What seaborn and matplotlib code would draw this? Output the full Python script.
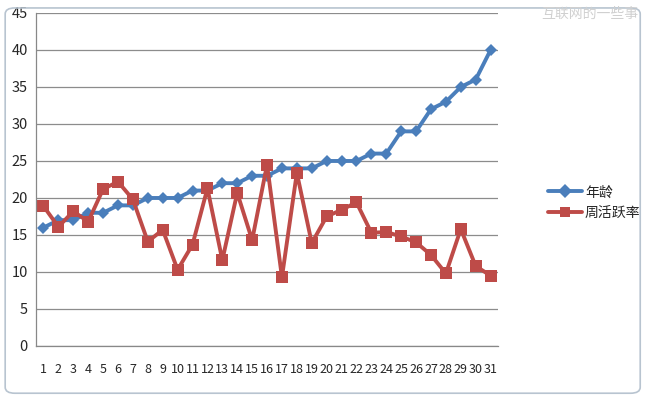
import pandas as pd
import seaborn as sns
import matplotlib.pyplot as plt
from matplotlib.patches import FancyBboxPatch

days = list(range(1, 32))
age = [16, 17, 17, 18, 18, 19, 19, 20, 20, 20, 21, 21, 22, 22, 23, 23,
       24, 24, 24, 25, 25, 25, 26, 26, 29, 29, 32, 33, 35, 36, 40]
active = [18.9, 16.1, 18.2, 16.8, 21.2, 22.2, 19.8, 14.1, 15.7, 10.3, 13.7,
          21.3, 11.6, 20.7, 14.3, 24.5, 9.3, 23.4, 13.9, 17.5, 18.4, 19.4,
          15.3, 15.4, 14.8, 14.0, 12.3, 9.8, 15.8, 10.8, 9.5]
series = ["年龄", "周活跃率"]

df = pd.DataFrame({
    "day": days * 2,
    "value": age + active,
    "series": [series[0]] * len(days) + [series[1]] * len(days),
})

sns.set_style("white")
plt.rcParams["font.family"] = ["Noto Sans CJK SC", "DejaVu Sans"]

fig = plt.figure(figsize=(6.48, 3.98), dpi=100)
fig.patches.append(FancyBboxPatch((0.008, 0.012), 0.98, 0.968,
                                  boxstyle="round,pad=0,rounding_size=0.015",
                                  transform=fig.transFigure, fill=False,
                                  edgecolor="#b8c4d0", linewidth=1.2))
ax = fig.add_axes([0.0556, 0.1307, 0.713, 0.8367])

sns.lineplot(
    data=df, x="day", y="value", hue="series", style="series",
    markers={series[0]: "D", series[1]: "s"}, dashes=False,
    palette={series[0]: "#4A7EBB", series[1]: "#BE4B48"},
    linewidth=2.8, markersize=7, markeredgewidth=0, ax=ax,
)
for line, ms in zip(ax.lines, [6.5, 8.5]):
    line.set_markersize(ms)

ax.set_xlim(0.5, 31.5)
ax.set_ylim(0, 45)
ax.set_yticks(range(0, 46, 5))
ax.set_xticks(days)
ax.set_xticks([d + 0.5 for d in range(0, 32)], minor=True)
ax.tick_params(axis="x", which="major", length=0, pad=12, labelsize=9)
ax.tick_params(axis="x", which="minor", length=4, color="#888888", width=0.8)
ax.tick_params(axis="y", length=4, color="#888888", labelsize=10.5, pad=2)
ax.yaxis.grid(True, color="#8c8c8c", linewidth=0.9)
ax.set_axisbelow(True)
for side in ["top", "right"]:
    ax.spines[side].set_visible(False)
for side in ["left", "bottom"]:
    ax.spines[side].set_color("#888888")
    ax.spines[side].set_linewidth(0.9)
ax.set_xlabel("")
ax.set_ylabel("")

ax.legend(loc="center left", bbox_to_anchor=(1.08, 0.43), frameon=False,
          fontsize=10, handlelength=2.5, handletextpad=0.2, labelspacing=0.5)

fig.text(0.985, 0.965, "互联网的一些事", ha="right", va="center",
         fontsize=10, color="#d0d0d0")

fig.savefig("out.png", dpi=100)
